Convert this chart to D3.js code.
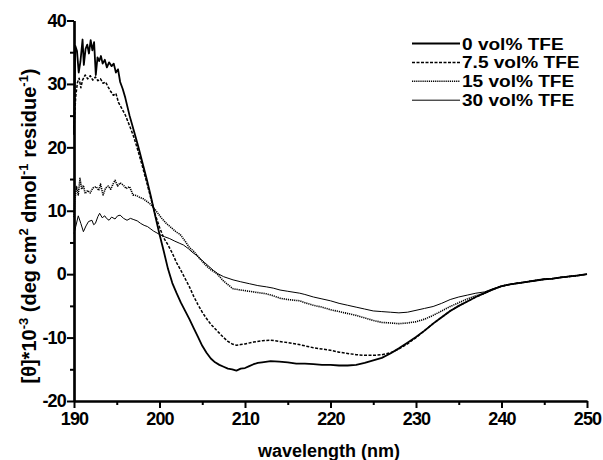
<!DOCTYPE html>
<html><head><meta charset="utf-8">
<script src="https://cdn.jsdelivr.net/npm/d3@7"></script>
<style>body{margin:0;background:#fff}svg{display:block}text{font-family:"Liberation Sans",Arial,sans-serif;font-weight:bold;fill:#000}</style>
</head><body>
<svg id="c" width="603" height="460"></svg>
<script>
const xTicks = [190,200,210,220,230,240,250];
const yTicks = [-20,-10,0,10,20,30,40];
const seriesNames = ["0 vol% TFE","7.5 vol% TFE","15 vol% TFE","30 vol% TFE"];

const tfe0 = [[190.0,22],[190.15,36],[190.35,35.2],[190.55,31.8],[190.75,33.5],[191.0,37],[191.15,33],[191.35,35.5],[191.55,36.2],[191.75,34.8],[191.95,36.9],[192.15,35.3],[192.35,36.6],[192.55,31.4],[192.75,34.2],[192.95,33.6],[193.15,34.4],[193.35,33.2],[193.6,33.8],[193.85,32.6],[194.1,33.4],[194.4,32.8],[194.65,33.2],[194.9,31.8],[195.15,32.3],[195.4,30.3],[195.7,29.2],[196.0,27.8],[196.5,25],[197,22.6],[197.5,20.2],[198,17.6],[198.5,15],[199,12.2],[199.5,9.2],[200,6.3],[200.5,3.6],[201,0.8],[201.5,-1.4],[202,-3.0],[202.5,-4.5],[203,-5.8],[203.5,-7.1],[204,-8.5],[204.5,-9.9],[205,-11.3],[205.5,-12.4],[206,-13.3],[206.5,-13.9],[207,-14.3],[207.5,-14.6],[208,-14.9],[208.5,-15],[209,-15.2],[209.5,-14.9],[210,-14.8],[210.5,-14.5],[211,-14.2],[211.5,-14.0],[212,-13.9],[213,-13.7],[214,-13.8],[215,-13.9],[216,-14.1],[217,-14.1],[218,-14.2],[219,-14.3],[220,-14.3],[221,-14.4],[222,-14.4],[223,-14.3],[224,-14.0],[225,-13.6],[226,-13.2],[227,-12.5],[228,-11.7],[229,-10.8],[230,-9.9],[231,-8.9],[232,-7.8],[233,-6.8],[234,-5.8],[235,-5.0],[236,-4.3],[237,-3.6],[238,-3.0],[239,-2.4],[240,-1.9],[241,-1.6],[242,-1.4],[243,-1.2],[244,-1.0],[245,-0.8],[246,-0.7],[247,-0.5],[248,-0.35],[249,-0.2],[250,0]];

const tfe75 = [[190,23],[190.2,28],[190.4,30.2],[190.6,30.9],[190.8,29.4],[191,30.6],[191.3,31.4],[191.6,30.8],[191.9,31.3],[192.2,30.6],[192.5,31.1],[192.8,30.5],[193.1,30.8],[193.4,30.1],[193.7,30.3],[194,29.5],[194.3,28.8],[194.6,28.2],[194.9,28.5],[195.2,27.1],[195.6,26.1],[196,25.1],[196.5,23.4],[197,21.6],[197.5,19.4],[198,17],[198.5,14.5],[199,11.9],[199.5,9.4],[200,7.4],[200.5,5.7],[201,4.6],[201.5,3.3],[202,1.8],[202.5,0.6],[203,-0.7],[203.5,-2],[204,-3.5],[204.5,-4.8],[205,-6],[205.5,-7],[206,-7.9],[206.5,-8.6],[207,-9.3],[207.5,-10],[208,-10.6],[208.5,-11],[209,-11.2],[209.5,-11.1],[210,-11],[211,-10.7],[212,-10.5],[213,-10.4],[214,-10.6],[215,-10.8],[216,-11],[217,-11.3],[218,-11.6],[219,-11.8],[220,-12],[221,-12.3],[222,-12.5],[223,-12.7],[224,-12.8],[225,-12.8],[226,-12.7],[227,-12.4],[228,-11.8],[229,-11],[230,-10],[231,-8.9],[232,-7.8],[233,-6.8],[234,-5.8],[235,-5.0],[236,-4.3],[237,-3.6],[238,-3.0],[239,-2.4],[240,-1.9],[241,-1.6],[242,-1.4],[243,-1.2],[244,-1.0],[245,-0.8],[246,-0.7],[247,-0.5],[248,-0.35],[249,-0.2],[250,0]];

const tfe15 = [[190,9],[190.1,11.7],[190.3,13.8],[190.5,12.5],[190.7,15.1],[190.9,13.4],[191.1,14],[191.3,12.7],[191.6,13.2],[191.9,12.8],[192.2,13.6],[192.6,13.8],[192.9,13.2],[193.1,14.2],[193.4,12.5],[193.7,13.6],[194,13.9],[194.3,13.4],[194.6,14.3],[194.8,14.8],[195.1,13.9],[195.4,14.4],[195.8,14],[196.1,13.5],[196.5,13.8],[196.9,12.5],[197.3,12.4],[197.7,12.1],[198.1,11.9],[198.5,11.5],[198.9,11.1],[199.3,10.5],[199.7,9.8],[200.2,8.9],[200.8,8],[201.4,7.3],[202,6.6],[202.4,6.3],[203,5.2],[203.5,4.2],[204,3.6],[204.5,2.8],[205,2.0],[205.5,1.3],[206,0.7],[206.7,0.1],[207.5,-1.1],[208.6,-2.3],[209.5,-2.5],[210.5,-2.7],[211.5,-2.9],[212.5,-3.1],[213.3,-3.4],[214.1,-3.8],[215,-4.0],[216.4,-4.2],[217,-4.5],[218,-4.9],[219,-5.2],[220,-5.6],[221,-5.9],[222,-6.2],[223,-6.5],[224,-6.9],[225,-7.3],[226,-7.6],[227,-7.7],[228,-7.8],[229,-7.7],[230,-7.5],[231,-7.1],[232,-6.5],[233,-5.8],[234,-5.1],[235,-4.5],[236,-3.9],[237,-3.4],[238,-3.0],[239,-2.4],[240,-1.9],[241,-1.6],[242,-1.4],[243,-1.2],[244,-1.0],[245,-0.8],[246,-0.7],[247,-0.5],[248,-0.35],[249,-0.2],[250,0]];

const tfe30 = [[190,6.4],[190.2,7.5],[190.5,9.2],[190.8,8],[191.1,6.7],[191.4,7.6],[191.7,8.3],[192.1,8.5],[192.3,7.8],[192.5,8],[192.8,9.1],[193,9.6],[193.3,8.9],[193.6,9.2],[193.8,8.8],[194.1,8.5],[194.4,9],[194.8,8.7],[195.1,9.2],[195.4,9.3],[195.8,8.8],[196.2,8.5],[196.6,8.8],[197,8.6],[197.4,8.4],[197.8,8],[198.2,7.7],[198.6,7.5],[198.9,7.2],[199.3,6.8],[199.7,6.5],[200.1,6.2],[200.6,5.9],[201.2,5.6],[201.8,5.2],[202.3,4.9],[202.8,4.6],[203.4,4.0],[203.8,3.5],[204.3,3.0],[204.8,2.4],[205.3,1.8],[205.8,1.2],[206.3,0.6],[206.8,0.1],[207.5,-0.4],[208.6,-0.9],[209.5,-1.2],[210.5,-1.5],[211.5,-1.8],[212.5,-2.0],[213.3,-2.2],[214.1,-2.5],[215,-2.7],[216.4,-3.0],[217,-3.2],[218,-3.6],[219,-3.9],[220,-4.2],[221,-4.6],[222,-4.9],[223,-5.2],[224,-5.5],[225,-5.8],[226,-5.9],[227,-6.0],[228,-6.1],[229,-6.0],[230,-5.7],[231,-5.4],[232,-5.1],[233,-4.6],[234,-4.0],[235,-3.6],[236,-3.3],[237,-3.0],[238,-2.8],[239,-2.3],[240,-1.9],[241,-1.6],[242,-1.4],[243,-1.2],[244,-1.0],[245,-0.8],[246,-0.7],[247,-0.5],[248,-0.35],[249,-0.2],[250,0]];

const seriesData = [tfe0, tfe75, tfe15, tfe30];
const styles = [
  {w:1.8, dash:null},
  {w:1.5, dash:"3,1.5"},
  {w:1.6, dash:"1.2,0.9"},
  {w:1.0, dash:null}
];

const svg = d3.select("#c");
const x = d3.scaleLinear().domain([190,250]).range([74,587]);
const y = d3.scaleLinear().domain([-20,40]).range([401,20.5]);

const line = d3.line().x(d=>x(d[0])).y(d=>y(d[1]));
seriesData.forEach((s,i)=>{
  svg.append("path").datum(s).attr("d",line).attr("fill","none")
    .attr("stroke","#000").attr("stroke-width",styles[i].w)
    .attr("stroke-dasharray",styles[i].dash).attr("stroke-linejoin","round");
});

// axes
const xMinor = d3.range(195,250,10);
const yMinor = d3.range(-15,40,10);
const xa = svg.append("g").attr("transform","translate(0,401)");
xa.call(d3.axisBottom(x).tickValues(xTicks).tickFormat(d=>String(d)).tickSize(7).tickSizeOuter(0).tickPadding(4));
xa.append("g").call(d3.axisBottom(x).tickValues(xMinor).tickFormat("").tickSize(4).tickSizeOuter(0));
const ya = svg.append("g").attr("transform","translate(74,0)");
ya.call(d3.axisLeft(y).tickValues(yTicks).tickFormat(d=>String(d)).tickSize(7).tickSizeOuter(0).tickPadding(1));
ya.append("g").call(d3.axisLeft(y).tickValues(yMinor).tickFormat("").tickSize(4).tickSizeOuter(0));
svg.selectAll(".domain").attr("stroke","#000").attr("stroke-width",2.2);
svg.selectAll(".tick line").attr("stroke","#000").attr("stroke-width",2);
svg.selectAll(".tick text").style("font-size","18px").style("font-family","Liberation Sans, Arial, sans-serif").style("font-weight","bold").style("letter-spacing","-0.8px");

// x title
svg.append("text").attr("x",329).attr("y",457).attr("text-anchor","middle")
  .style("font-size","18px").text("wavelength (nm)");

// y title
const yt = svg.append("text").attr("transform","translate(36,226) rotate(-90)")
  .attr("text-anchor","middle").style("font-size","20px");
const parts = [["[θ]*10",0],["-3",1],[" (deg cm",0],["2",1],[" dmol",0],["-1",1],[" residue",0],["-1",1],[")",0]];
parts.forEach((p,i)=>{
  const t = yt.append("tspan").text(p[0]);
  if(p[1]) t.attr("dy",-8).style("font-size","13px");
  else if(i>0 && parts[i-1][1]===1) t.attr("dy",8);
});

// legend
const lg = svg.append("g");
seriesNames.forEach((n,i)=>{
  const yy = 43.5 + i*18.9;
  lg.append("line").attr("x1",412).attr("x2",460).attr("y1",yy).attr("y2",yy)
    .attr("stroke","#000").attr("stroke-width",styles[i].w).attr("stroke-dasharray",styles[i].dash);
  lg.append("text").attr("transform",`translate(462,${yy+6}) scale(1.17,1)`)
    .style("font-size","16.3px").text(n);
});
</script>
</body></html>
